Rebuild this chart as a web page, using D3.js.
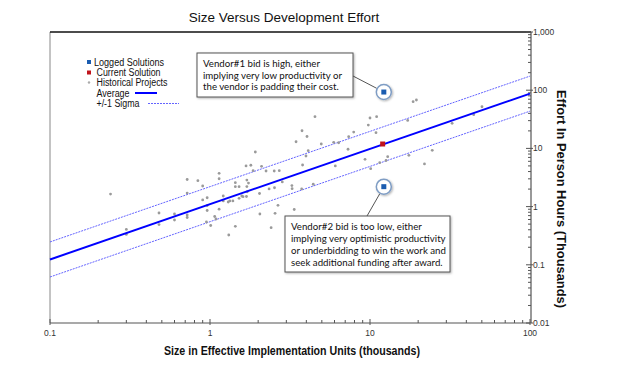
<!DOCTYPE html>
<html>
<head>
<meta charset="utf-8">
<script src="https://cdn.jsdelivr.net/npm/d3@7"></script>
<style>
  body { margin: 0; background: #fff; }
  text { font-family: "Liberation Sans", Arial, sans-serif; }
</style>
</head>
<body>
<div id="canvas"></div>
<script>
// historical projects: size (thousands of units) and effort (thousands of hours)
var histSize = [0.239, 0.30, 0.30, 0.48, 0.48, 0.60, 0.60, 0.72, 0.72, 0.72, 0.72, 0.84, 0.90, 0.90,
  0.96, 0.96, 0.96, 0.95, 1.01, 1.07, 1.09, 1.14, 1.14, 1.14, 1.21, 1.21, 1.30, 1.33, 1.39, 1.44,
  1.44, 1.52, 1.52, 1.58, 1.61, 1.44, 1.31, 1.68, 1.80, 1.92, 1.86, 1.70, 1.74, 1.70, 1.71, 1.69,
  2.04, 2.05, 2.10, 2.24, 2.52, 2.71, 2.83, 2.34, 2.53, 2.41, 2.66, 2.55, 3.36, 3.25, 3.26, 3.74,
  4.42, 3.79, 4.11, 3.98, 3.45, 3.76, 4.04, 4.53, 4.96, 5.93, 6.37, 6.07, 7.36, 7.91, 7.29, 9.76,
  10.0, 11.0, 10.9, 9.31, 10.1, 11.5, 12.6, 12.9, 17.2, 18.6, 19.5, 17.5, 21.9, 24.5, 32.6, 44.5, 50.1];
var histEffort = [1.64, 0.405, 0.332, 0.776, 0.492, 0.746, 0.589, 2.92, 1.71, 0.717, 0.650, 2.79, 2.26, 1.30,
  1.42, 1.04, 0.857, 0.544, 0.473, 0.676, 0.612, 3.73, 3.01, 0.902, 1.52, 1.25, 1.20, 1.25, 1.25, 2.58,
  2.20, 2.20, 1.39, 1.52, 1.48, 0.459, 0.325, 4.99, 5.13, 8.67, 4.14, 2.86, 2.54, 2.21, 1.80, 1.49,
  1.68, 0.746, 4.92, 4.09, 4.09, 4.14, 2.65, 2.01, 2.11, 0.434, 1.05, 0.767, 0.891, 2.30, 2.03, 2.01,
  2.42, 5.19, 9.13, 7.40, 13.0, 20.1, 16.0, 35.1, 11.9, 12.7, 12.5, 4.99, 15.9, 19.1, 9.66, 25.2,
  33.3, 35.1, 18.6, 6.50, 4.48, 5.68, 6.19, 7.20, 30.2, 63.4, 67.9, 7.61, 5.40, 9.27, 27.0, 37.9, 52.0];

var loggedSize = [12.2, 12.2];
var loggedEffort = [93, 2.2];
var currentSize = [12.0];
var currentEffort = [11.9];

// average trend: effort = avgCoef * size ^ avgExp, sigma band is a factor
var avgCoef = 1.1, avgExp = 0.95, sigmaFactor = 2.0;

var xTicks = [0.1, 1, 10, 100];
var yTicks = [0.01, 0.1, 1, 10, 100, 1000];

var legendLabels = ['Logged Solutions', 'Current Solution', 'Historical Projects', 'Average', '+/-1 Sigma'];
var notes = [
  ['Vendor#1 bid is high, either', 'implying very low productivity or', 'the vendor is padding their cost.'],
  ['Vendor#2 bid is too low, either', 'implying very optimistic productivity', 'or underbidding to win the work and', 'seek additional funding after award.']
];

var svg = d3.select('#canvas').append('svg')
  .attr('width', 620)
  .attr('height', 370);

var defs = svg.append('defs');
var shadow = defs.append('filter').attr('id', 'shadow')
  .attr('x', '-30%').attr('y', '-30%').attr('width', '160%').attr('height', '160%');
shadow.append('feDropShadow').attr('dx', 1).attr('dy', 1).attr('stdDeviation', 1)
  .attr('flood-color', '#000').attr('flood-opacity', 0.3);

var x = d3.scaleLog().domain([0.1, 100]).range([50, 530]);
var y = d3.scaleLog().domain([0.01, 1000]).range([323, 32]);

// frame
svg.append('line').attr('x1', 50).attr('x2', 50).attr('y1', 32).attr('y2', 323)
  .attr('stroke', '#888').attr('stroke-width', 1);
svg.append('line').attr('x1', 50).attr('x2', 531).attr('y1', 32).attr('y2', 32)
  .attr('stroke', '#111').attr('stroke-width', 1.6);

// bottom axis (ticks inward)
var minorX = [];
[0.1, 1, 10].forEach(function(d) { for (var k = 2; k < 10; k++) minorX.push(d * k); });
var xAxis = svg.append('g');
xAxis.append('line').attr('x1', 50).attr('x2', 530).attr('y1', 323).attr('y2', 323)
  .attr('stroke', '#555').attr('stroke-width', 1.2);
xAxis.selectAll('.minor').data(minorX).enter().append('line')
  .attr('x1', x).attr('x2', x).attr('y1', 323).attr('y2', 320)
  .attr('stroke', '#555');
xAxis.selectAll('.major').data(xTicks).enter().append('line')
  .attr('x1', x).attr('x2', x).attr('y1', 325).attr('y2', 319)
  .attr('stroke', '#555');
xAxis.selectAll('text').data(xTicks).enter().append('text')
  .attr('x', x).attr('y', 336)
  .attr('text-anchor', 'middle')
  .style('font-size', '8.5px').style('fill', '#333')
  .text(function(d) { return d; });

// right axis (ticks inward)
var minorY = [];
[0.01, 0.1, 1, 10, 100].forEach(function(d) { for (var k = 2; k < 10; k++) minorY.push(d * k); });
var yAxis = svg.append('g');
yAxis.append('line').attr('x1', 531).attr('x2', 531).attr('y1', 32).attr('y2', 323)
  .attr('stroke', '#555').attr('stroke-width', 1.2);
yAxis.selectAll('.minor').data(minorY).enter().append('line')
  .attr('x1', 528).attr('x2', 531).attr('y1', y).attr('y2', y)
  .attr('stroke', '#555');
yAxis.selectAll('.major').data(yTicks).enter().append('line')
  .attr('x1', 526).attr('x2', 533).attr('y1', y).attr('y2', y)
  .attr('stroke', '#555');
yAxis.selectAll('text').data(yTicks).enter().append('text')
  .attr('x', 533).attr('y', function(d) { return y(d) + 3; })
  .style('font-size', '8.5px').style('fill', '#333')
  .text(d3.format(','));

// trend lines
var xs = [0.1, 100];
var line = function(f) {
  return d3.line().x(function(d) { return x(d); }).y(function(d) { return y(f * avgCoef * Math.pow(d, avgExp)); })(xs);
};
svg.append('path').attr('d', line(sigmaFactor))
  .attr('fill', 'none').attr('stroke', '#6464ff').attr('stroke-width', 1).attr('stroke-dasharray', '2,1');
svg.append('path').attr('d', line(1 / sigmaFactor))
  .attr('fill', 'none').attr('stroke', '#6464ff').attr('stroke-width', 1).attr('stroke-dasharray', '2,1');

// historical points
svg.append('g').selectAll('circle').data(histSize).enter().append('circle')
  .attr('cx', function(d) { return x(d); })
  .attr('cy', function(d, i) { return y(histEffort[i]); })
  .attr('r', 1.4)
  .attr('fill', '#9a9a9a');

svg.append('path').attr('d', line(1))
  .attr('fill', 'none').attr('stroke', '#0000ff').attr('stroke-width', 2);

// current solution
svg.append('g').selectAll('rect').data(currentSize).enter().append('rect')
  .attr('x', function(d) { return x(d) - 2.5; })
  .attr('y', function(d, i) { return y(currentEffort[i]) - 2.5; })
  .attr('width', 5).attr('height', 5)
  .attr('fill', '#c0141c');

// callout boxes
var boxes = [
  { x: 197, y: 53, w: 156, h: 44, lx: 353, ly: 76 },
  { x: 285, y: 216, w: 165, h: 56, lx: 367, ly: 216 }
];
boxes.forEach(function(b, i) {
  var px = x(loggedSize[i]), py = y(loggedEffort[i]);
  var ang = Math.atan2(b.ly - py, b.lx - px);
  svg.append('line')
    .attr('x1', b.lx).attr('y1', b.ly)
    .attr('x2', px + 8 * Math.cos(ang)).attr('y2', py + 8 * Math.sin(ang))
    .attr('stroke', '#555').attr('stroke-width', 1);
  svg.append('rect')
    .attr('x', b.x).attr('y', b.y).attr('width', b.w).attr('height', b.h)
    .attr('fill', '#fff').attr('stroke', '#555').attr('stroke-width', 1)
    .attr('filter', 'url(#shadow)');
  svg.append('g').selectAll('text').data(notes[i]).enter().append('text')
    .attr('x', b.x + 6)
    .attr('y', function(d, j) { return b.y + 14 + j * (i == 0 ? 11.5 : 12); })
    .style('font-family', 'Lato, "Open Sans", sans-serif')
    .style('font-size', '9.7px').style('fill', '#111')
    .text(function(d) { return d; });
});

// logged solutions with halo
var logged = svg.append('g').selectAll('g').data(loggedSize).enter().append('g')
  .attr('transform', function(d, i) { return 'translate(' + x(d) + ',' + y(loggedEffort[i]) + ')'; });
logged.append('circle').attr('r', 7.5)
  .attr('fill', '#fff').attr('stroke', '#7f9dc4').attr('stroke-width', 1.5)
  .attr('filter', 'url(#shadow)');
logged.append('rect').attr('x', -2.5).attr('y', -2.5).attr('width', 5).attr('height', 5)
  .attr('fill', '#1a5cb0');

// legend
var legend = svg.append('g');
var rowY = [62, 72.5, 82.5, 93, 103.5];
var legendWidth = [70, 64, 71, 33, 43];
legend.selectAll('text').data(legendLabels).enter().append('text')
  .attr('x', function(d, i) { return i == 0 ? 94 : 96.5; })
  .attr('y', function(d, i) { return rowY[i] + 3.5; })
  .attr('textLength', function(d, i) { return legendWidth[i]; })
  .attr('lengthAdjust', 'spacingAndGlyphs')
  .style('font-size', '10px').style('fill', '#111')
  .text(function(d) { return d; });
legend.append('rect').attr('x', 87).attr('y', rowY[0] - 2).attr('width', 4).attr('height', 4).attr('fill', '#1a5cb0');
legend.append('rect').attr('x', 87).attr('y', rowY[1] - 2).attr('width', 4).attr('height', 4).attr('fill', '#c0141c');
legend.append('circle').attr('cx', 89).attr('cy', rowY[2]).attr('r', 1.2).attr('fill', '#aaa');
legend.append('line').attr('x1', 135).attr('x2', 157).attr('y1', rowY[3]).attr('y2', rowY[3])
  .attr('stroke', '#0000ff').attr('stroke-width', 2);
legend.append('line').attr('x1', 148).attr('x2', 179).attr('y1', rowY[4]).attr('y2', rowY[4])
  .attr('stroke', '#6464ff').attr('stroke-width', 1).attr('stroke-dasharray', '2,1');

// titles
svg.append('text').attr('x', 284).attr('y', 22)
  .attr('text-anchor', 'middle')
  .style('font-size', '13.5px').style('fill', '#111')
  .text('Size Versus Development Effort');

svg.append('text').attr('x', 292).attr('y', 355)
  .attr('text-anchor', 'middle')
  .attr('textLength', 256).attr('lengthAdjust', 'spacingAndGlyphs')
  .style('font-size', '12.5px').style('font-weight', 'bold').style('fill', '#111')
  .text('Size in Effective Implementation Units (thousands)');

svg.append('text')
  .attr('transform', 'translate(557,199) rotate(90)')
  .attr('text-anchor', 'middle')
  .attr('textLength', 218).attr('lengthAdjust', 'spacingAndGlyphs')
  .style('font-size', '12.5px').style('font-weight', 'bold').style('fill', '#111')
  .text('Effort In Person Hours  (Thousands)');
</script>
</body>
</html>
